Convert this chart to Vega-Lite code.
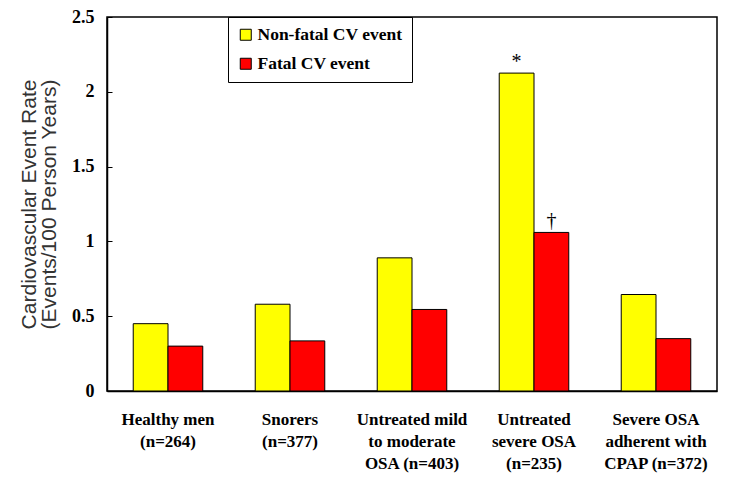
{
  "$schema": "https://vega.github.io/schema/vega-lite/v6.json",
  "width": 610,
  "height": 374,
  "autosize": {"type": "none"},
  "padding": {"left": 107, "top": 17, "right": 12, "bottom": 92},
  "config": {
    "view": {"stroke": "#000", "strokeWidth": 1.5},
    "axis": {"domainColor": "#000", "tickColor": "#000", "grid": false}
  },
  "data": {
    "values": [
      {"group": "Healthy men|(n=264)", "event": "Non-fatal CV event", "rate": 0.45, "mark": ""},
      {"group": "Healthy men|(n=264)", "event": "Fatal CV event", "rate": 0.30, "mark": ""},
      {"group": "Snorers|(n=377)", "event": "Non-fatal CV event", "rate": 0.58, "mark": ""},
      {"group": "Snorers|(n=377)", "event": "Fatal CV event", "rate": 0.335, "mark": ""},
      {"group": "Untreated mild|to moderate|OSA (n=403)", "event": "Non-fatal CV event", "rate": 0.89, "mark": ""},
      {"group": "Untreated mild|to moderate|OSA (n=403)", "event": "Fatal CV event", "rate": 0.545, "mark": ""},
      {"group": "Untreated|severe OSA|(n=235)", "event": "Non-fatal CV event", "rate": 2.125, "mark": "*"},
      {"group": "Untreated|severe OSA|(n=235)", "event": "Fatal CV event", "rate": 1.06, "mark": "†"},
      {"group": "Severe OSA|adherent with|CPAP (n=372)", "event": "Non-fatal CV event", "rate": 0.645, "mark": ""},
      {"group": "Severe OSA|adherent with|CPAP (n=372)", "event": "Fatal CV event", "rate": 0.35, "mark": ""}
    ]
  },
  "encoding": {
    "x": {
      "field": "group",
      "type": "nominal",
      "sort": null,
      "scale": {"paddingInner": 0.43, "paddingOuter": 0.215},
      "axis": {
        "title": null,
        "labelAngle": 0,
        "ticks": false,
        "labelExpr": "split(datum.label, '|')",
        "labelFont": "Liberation Serif",
        "labelFontWeight": "bold",
        "labelFontSize": 17,
        "labelColor": "#000",
        "labelLineHeight": 22,
        "labelPadding": 20,
        "labelBaseline": "top",
        "domainWidth": 1.5
      }
    },
    "xOffset": {"field": "event", "type": "nominal", "sort": ["Non-fatal CV event", "Fatal CV event"]},
    "y": {
      "field": "rate",
      "type": "quantitative",
      "scale": {"domain": [0, 2.5], "nice": false},
      "axis": {
        "values": [0, 0.5, 1, 1.5, 2, 2.5],
        "labelExpr": "datum.value + ''",
        "labelFont": "Liberation Serif",
        "labelFontWeight": "bold",
        "labelFontSize": 18,
        "labelColor": "#000",
        "labelPadding": 18,
        "tickSize": -5,
        "domainWidth": 1.5,
        "title": ["Cardiovascular Event Rate", "(Events/100 Person Years)"],
        "titleFont": "Liberation Sans",
        "titleFontWeight": "normal",
        "titleFontSize": 21,
        "titleLineHeight": 20,
        "titleColor": "#333",
        "titlePadding": 12
      }
    }
  },
  "layer": [
    {
      "mark": {"type": "bar", "stroke": "#000", "strokeWidth": 1},
      "encoding": {
        "color": {
          "field": "event",
          "type": "nominal",
          "sort": ["Non-fatal CV event", "Fatal CV event"],
          "scale": {"domain": ["Non-fatal CV event", "Fatal CV event"], "range": ["#FFFF00", "#FF0000"]},
          "legend": {
            "title": null,
            "orient": "none",
            "legendX": 121,
            "legendY": 0,
            "strokeColor": "#000",
            "padding": 9,
            "symbolType": "square",
            "symbolSize": 121,
            "symbolStrokeColor": "#000",
            "symbolStrokeWidth": 1,
            "labelFont": "Liberation Serif",
            "labelFontWeight": "bold",
            "labelFontSize": 17.5,
            "labelColor": "#000",
            "rowPadding": 10,
            "labelOffset": 3
          }
        }
      }
    },
    {
      "mark": {"type": "text", "dy": -11, "font": "Liberation Serif", "fontSize": 20, "color": "#000"},
      "encoding": {"text": {"field": "mark"}}
    }
  ]
}
